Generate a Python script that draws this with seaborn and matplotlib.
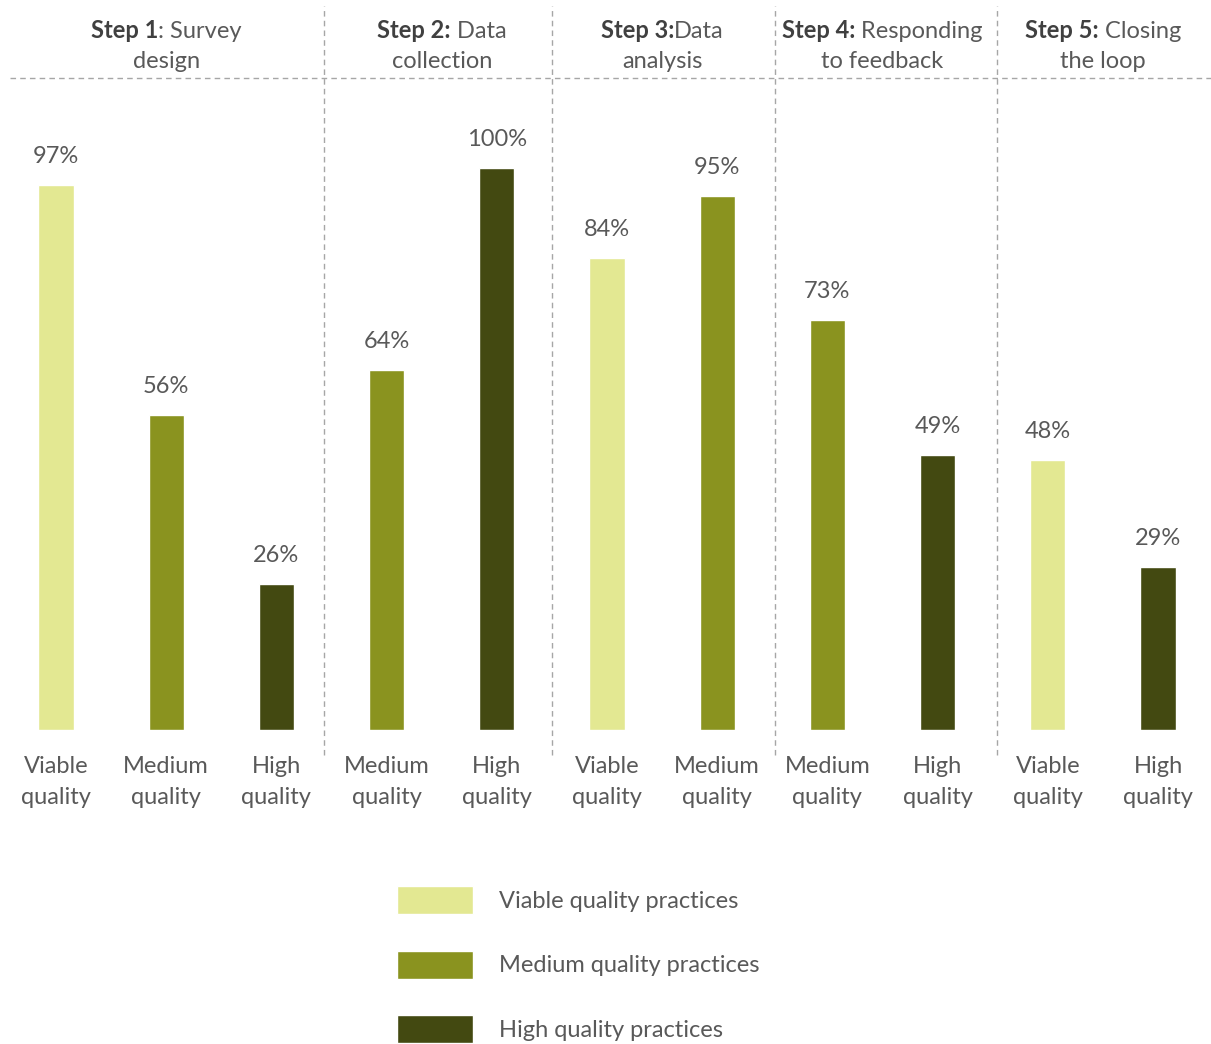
import pandas as pd
import seaborn as sns
import matplotlib.pyplot as plt
from matplotlib.offsetbox import TextArea, HPacker, AnnotationBbox

# data
bar_ids = ["s1v", "s1m", "s1h", "s2m", "s2h", "s3v", "s3m", "s4m", "s4h", "s5v", "s5h"]
bar_quality = ["Viable", "Medium", "High", "Medium", "High", "Viable", "Medium",
               "Medium", "High", "Viable", "High"]
bar_values = [97, 56, 26, 64, 100, 84, 95, 73, 49, 48, 29]
tick_labels = ["Viable\nquality", "Medium\nquality", "High\nquality", "Medium\nquality",
               "High\nquality", "Viable\nquality", "Medium\nquality", "Medium\nquality",
               "High\nquality", "Viable\nquality", "High\nquality"]
step_bold = ["Step 1", "Step 2:", "Step 3:", "Step 4:", "Step 5:"]
step_rest = [": Survey", " Data", "Data", " Responding", " Closing"]
step_line2 = ["design", "collection", "analysis", "to feedback", "the loop"]
step_centers = [1, 3.5, 5.5, 7.5, 9.5]
separators = [2.43, 4.5, 6.52, 8.54]
legend_labels = {"Viable": "Viable quality practices",
                 "Medium": "Medium quality practices",
                 "High": "High quality practices"}
colors = {"Viable": "#E3E892", "Medium": "#8A931F", "High": "#434911"}

df = pd.DataFrame({"bar": bar_ids, "quality": bar_quality, "value": bar_values})
df["quality"] = df["quality"].map(legend_labels)
palette = {legend_labels[k]: v for k, v in colors.items()}

sns.set_style("white")
plt.rcParams["font.family"] = ["Lato", "DejaVu Sans"]
txt_col = "#595959"
fs = 17

fig = plt.figure(figsize=(12.11, 10.44), dpi=100)
ax = fig.add_axes([0, (1044 - 730) / 1044, 1, 730 / 1044])

sns.barplot(data=df, x="bar", y="value", hue="quality", order=bar_ids,
            hue_order=list(legend_labels.values()), palette=palette,
            dodge=False, width=0.32, saturation=1, ax=ax, legend=True)

for c in ax.containers:
    ax.bar_label(c, fmt="{:.0f}%", padding=13, fontsize=fs, color=txt_col)

ax.set_xlim(-56 / 110.2, (1211 - 56) / 110.2)
ax.set_ylim(0, 730 / 5.62)
ax.set_xticks(range(len(bar_ids)))
ax.set_xticklabels(tick_labels, fontsize=fs, color=txt_col, linespacing=1.55)
ax.tick_params(axis="x", length=0, pad=19)
ax.set_yticks([])
ax.set_xlabel("")
ax.set_ylabel("")
sns.despine(ax=ax, left=True, bottom=True)

dash = dict(color="#A6A6A6", lw=1, linestyle=(0, (4, 3)), clip_on=False)
for s in separators:
    ax.plot([s, s], [-4.4, 128.9], **dash)
ax.plot([-0.42, 10.5], [(730 - 78) / 5.62] * 2, **dash)

# headers
for cx, b, r, l2 in zip(step_centers, step_bold, step_rest, step_line2):
    box = HPacker(children=[
        TextArea(b, textprops=dict(fontsize=fs, fontweight="bold", color="#404040")),
        TextArea(r, textprops=dict(fontsize=fs, color=txt_col)),
    ], pad=0, sep=0, align="baseline")
    ab = AnnotationBbox(box, (cx, (730 - 31) / 5.62), frameon=False,
                        box_alignment=(0.5, 0.5), annotation_clip=False)
    ax.add_artist(ab)
    ax.text(cx, (730 - 62) / 5.62, l2, ha="center", va="center",
            fontsize=fs, color=txt_col, clip_on=False)

leg = ax.get_legend()
handles = leg.legend_handles
leg.remove()
fig.legend(handles, list(legend_labels.values()), loc="upper left",
           bbox_to_anchor=(397 / 1211, 1 - 886 / 1044), frameon=False,
           fontsize=fs, labelcolor=txt_col, handlelength=3.2, handleheight=1.45,
           labelspacing=1.55, handletextpad=1.1, borderpad=0, borderaxespad=0)

fig.savefig("out.png", dpi=100)
